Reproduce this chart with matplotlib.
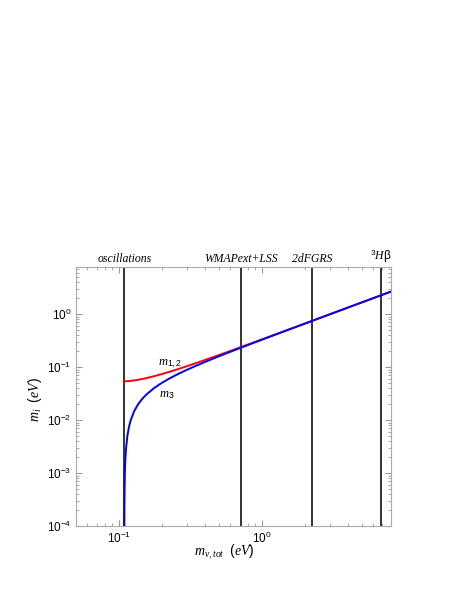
import matplotlib
matplotlib.use("Agg")
import matplotlib.pyplot as plt
from matplotlib.ticker import LogLocator, NullFormatter

# Values
m_tot = [0.1091, 0.1092, 0.1095, 0.1100, 0.11054, 0.11107, 0.1122, 0.11445, 0.11752,
         0.1208, 0.12805, 0.1361, 0.14492, 0.1544, 0.1752, 0.1979, 0.22211, 0.2474,
         0.28694, 0.3278, 0.38359, 0.4692, 0.6146, 0.9098, 1.506, 3.003, 6.002, 8.10]
m3 = [1e-4, 2e-4, 5e-4, 1e-3, 1.5e-3, 2e-3, 3e-3, 5e-3, 7.5e-3,
      0.01, 0.015, 0.02, 0.025, 0.03, 0.04, 0.05, 0.06, 0.07,
      0.085, 0.10, 0.12, 0.15, 0.20, 0.30, 0.50, 1.0, 2.0, 2.70]
m12 = [0.05450, 0.05450, 0.05450, 0.05451, 0.05452, 0.05453, 0.05458, 0.05473, 0.05501,
       0.05541, 0.05652, 0.05805, 0.05996, 0.06221, 0.06760, 0.07396, 0.08106, 0.08871,
       0.10097, 0.11389, 0.13180, 0.15959, 0.20729, 0.30491, 0.50296, 1.00148, 2.00074, 2.70055]

bound_names = ["oscillations", "WMAPext+LSS", "2dFGRS", r"$^{\mathit{3}}$H$\mathrm{\beta}$"]
bound_values = [0.109, 0.716, 2.26, 6.8]

plt.rcParams["font.family"] = ["Liberation Sans", "DejaVu Sans"]
plt.rcParams["mathtext.fontset"] = "custom"
plt.rcParams["mathtext.rm"] = "Liberation Sans"
plt.rcParams["mathtext.it"] = "Liberation Serif:italic"
plt.rcParams["mathtext.default"] = "it"

fig = plt.figure(figsize=(4.58, 5.92), dpi=100)
ax = fig.add_axes([0.1659, 0.1110, 0.6871, 0.4375])
ax.set_xscale("log")
ax.set_yscale("log")
ax.set_xlim(0.05, 8.0)
ax.set_ylim(1e-4, 7.7)

ax.plot(m_tot, m12, color="#ff0000", lw=1.4, zorder=3)
ax.plot(m_tot, m3, color="#0000ff", lw=1.4, zorder=4)

for name, v in zip(bound_names, bound_values):
    ax.axvline(v, color="#333333", lw=1.4, zorder=2)
    ax.text(v, 1.008, name, transform=ax.get_xaxis_transform(), ha="center", va="bottom",
            fontsize=8.5, family="Liberation Serif", style="italic")

ax.text(0.228, 0.119, r"$m_{\mathit{1,2}}$", fontsize=9, ha="center", va="center")
ax.text(0.217, 0.0298, r"$m_{\mathit{3}}$", fontsize=9, ha="center", va="center")

ax.set_xlabel(r"$m_{\nu,tot}\ \ (eV)$", fontsize=10)
ax.set_ylabel(r"$m_{i}\ \ (eV)$", fontsize=10)
ax.xaxis.label.set_va("center")
ax.yaxis.label.set_va("center")
ax.xaxis.set_label_coords(0.473, -0.098)
ax.yaxis.set_label_coords(-0.130, 0.49)

for s in ax.spines.values():
    s.set_color("#aaaaaa")
    s.set_linewidth(0.8)

ax.xaxis.set_major_locator(LogLocator(base=10, numticks=10))
ax.xaxis.set_minor_locator(LogLocator(base=10, subs=range(2, 10), numticks=10))
ax.xaxis.set_minor_formatter(NullFormatter())
ax.yaxis.set_minor_formatter(NullFormatter())
ax.tick_params(which="both", direction="in", top=True, right=True, color="#999999")
ax.tick_params(which="major", length=4, labelsize=8.5)
ax.tick_params(which="minor", length=2)

fig.savefig("out.png", dpi=100)
